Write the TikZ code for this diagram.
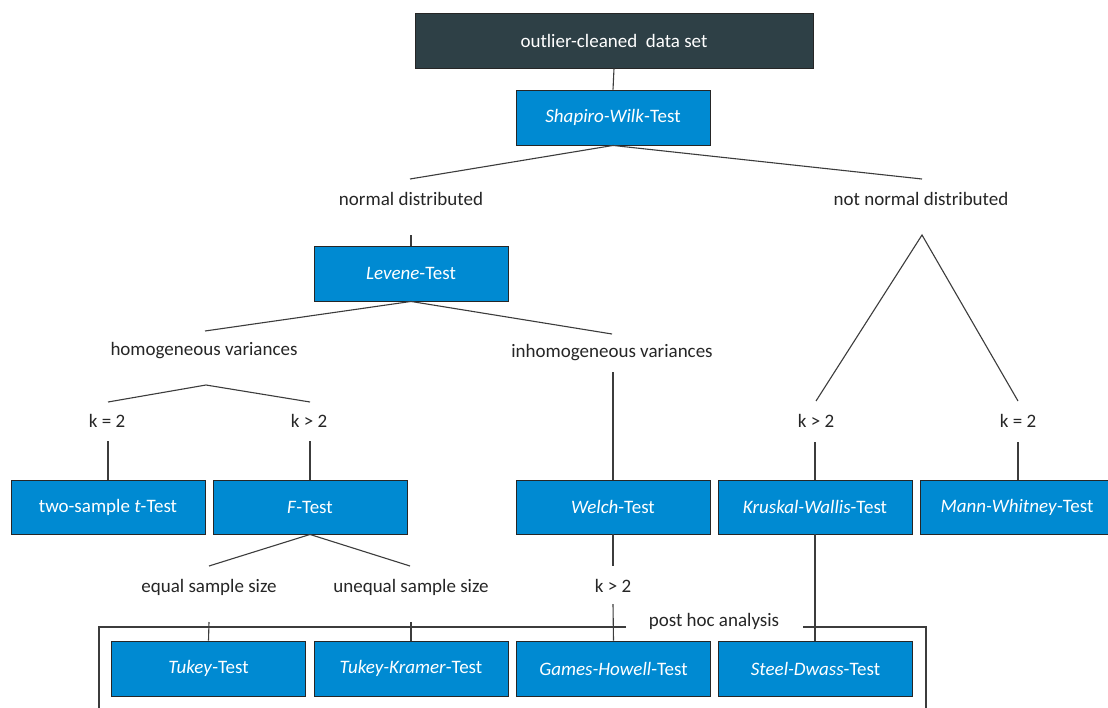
\documentclass[tikz,border=0pt]{standalone}
\usepackage{fontspec}
\setmainfont{Carlito}
\definecolor{boxblue}{RGB}{0,138,210}
\definecolor{darkbox}{RGB}{46,64,70}
\definecolor{linegray}{RGB}{60,60,60}
\begin{document}
\begin{tikzpicture}[x=1pt,y=-1pt,
  box/.style={draw=black!85, line width=0.9pt, fill=boxblue, text=white,
    minimum width=194pt, minimum height=54pt, inner sep=0pt,
    font=\fontsize{19}{22}\selectfont},
  topbox/.style={box, fill=darkbox, minimum width=398pt, minimum height=55pt},
  lab/.style={font=\fontsize{19}{22}\selectfont, text=black!85, inner sep=0pt},
  conn/.style={draw=linegray, line width=1.1pt}]
\useasboundingbox (0,0) rectangle (1108,707);
\clip (0,0) rectangle (1108,707);
\fill[white] (0,0) rectangle (1108,707);

% boxes
\node[topbox] (top) at (614,40.5) {outlier-cleaned\ \ data set};
\node[box, minimum height=55pt] (shapiro) at (613,117.5) {\textit{Shapiro-Wilk}-Test};
\node[box, minimum height=55pt] (levene) at (411,273.5) {\textit{Levene}-Test};
\node[box] (twosample) at (108,507) {two-sample \textit{t}-Test};
\node[box] (ftest) at (310,507) {\textit{F}-Test};
\node[box] (welch) at (613,507) {\textit{Welch}-Test};
\node[box] (kruskal) at (815,507) {\textit{Kruskal-Wallis}-Test};
\node[box] (mann) at (1017,507) {\textit{Mann-Whitney}-Test};
\node[box, minimum height=55pt] (tukey) at (208.5,668.5) {\textit{Tukey}-Test};
\node[box, minimum height=55pt] (tukeyk) at (411,668.5) {\textit{Tukey-Kramer}-Test};
\node[box, minimum height=55pt] (games) at (613.5,668.5) {\textit{Games-Howell}-Test};
\node[box, minimum height=55pt] (steel) at (815.5,668.5) {\textit{Steel-Dwass}-Test};

% labels
\node[lab] (normdist) at (411,199) {normal distributed};
\node[lab] (notnorm) at (921,199) {not normal distributed};
\node[lab] (homvar) at (204,351) {homogeneous variances};
\node[lab] (inhomvar) at (612,353) {inhomogeneous variances};
\node[lab] (keqa) at (107,421) {k = 2};
\node[lab] (kgta) at (309,421) {k > 2};
\node[lab] (kgtb) at (816,421) {k > 2};
\node[lab] (keqb) at (1018,421) {k = 2};
\node[lab] (equal) at (209,587) {equal sample size};
\node[lab] (unequal) at (411,587) {unequal sample size};
\node[lab] (kgtc) at (613,586) {k > 2};
\node[lab] (posthoc) at (714,621) {post hoc analysis};

% free ends
\coordinate (c1) at (410,179);
\coordinate (c2) at (922,179);
\coordinate (c3) at (411,235);
\coordinate (c4) at (205,331);
\coordinate (c5) at (612,334);
\coordinate (c6) at (206,385);
\coordinate (c7) at (108,402);
\coordinate (c8) at (310,402);
\coordinate (c9) at (108,441);
\coordinate (c10) at (310,441);
\coordinate (c11) at (613,372);
\coordinate (c12) at (922,235);
\coordinate (c13) at (816,401);
\coordinate (c14) at (1018,401);
\coordinate (c15) at (815,442);
\coordinate (c16) at (1018,442);
\coordinate (c17) at (209,566);
\coordinate (c18) at (410,566);
\coordinate (c19) at (209,622);
\coordinate (c20) at (411,622);
\coordinate (c21) at (613,566);
\coordinate (c22) at (613,604);
\coordinate (f1) at (626,627);
\coordinate (f2) at (99,627);
\coordinate (f3) at (99,720);
\coordinate (f4) at (803,627);
\coordinate (f5) at (926,627);
\coordinate (f6) at (926,720);

% connectors
\draw[conn] (top.south) -- (shapiro.north);
\draw[conn] (shapiro.south) -- (c1);
\draw[conn] (shapiro.south) -- (c2);
\draw[conn] (c3) -- (levene.north);
\draw[conn] (levene.south) -- (c4);
\draw[conn] (levene.south) -- (c5);
\draw[conn] (c7) -- (c6) -- (c8);
\draw[conn] (c9) -- (twosample.north);
\draw[conn] (c10) -- (ftest.north);
\draw[conn] (c11) -- (welch.north);
\draw[conn] (c13) -- (c12) -- (c14);
\draw[conn] (c15) -- (kruskal.north);
\draw[conn] (c16) -- (c16 |- mann.north);
\draw[conn] (ftest.south) -- (c17);
\draw[conn] (ftest.south) -- (c18);
\draw[conn] (welch.south) -- (c21);
\draw[conn] (c22) -- (games.north);
\draw[conn] (c19) -- (tukey.north);
\draw[conn] (c20) -- (tukeyk.north);
\draw[conn] (f1) -- (f2) -- (f3);
\draw[conn] (f4) -- (f5) -- (f6);
\draw[conn] (kruskal.south) -- (kruskal.south |- steel.north);
\end{tikzpicture}
\end{document}
